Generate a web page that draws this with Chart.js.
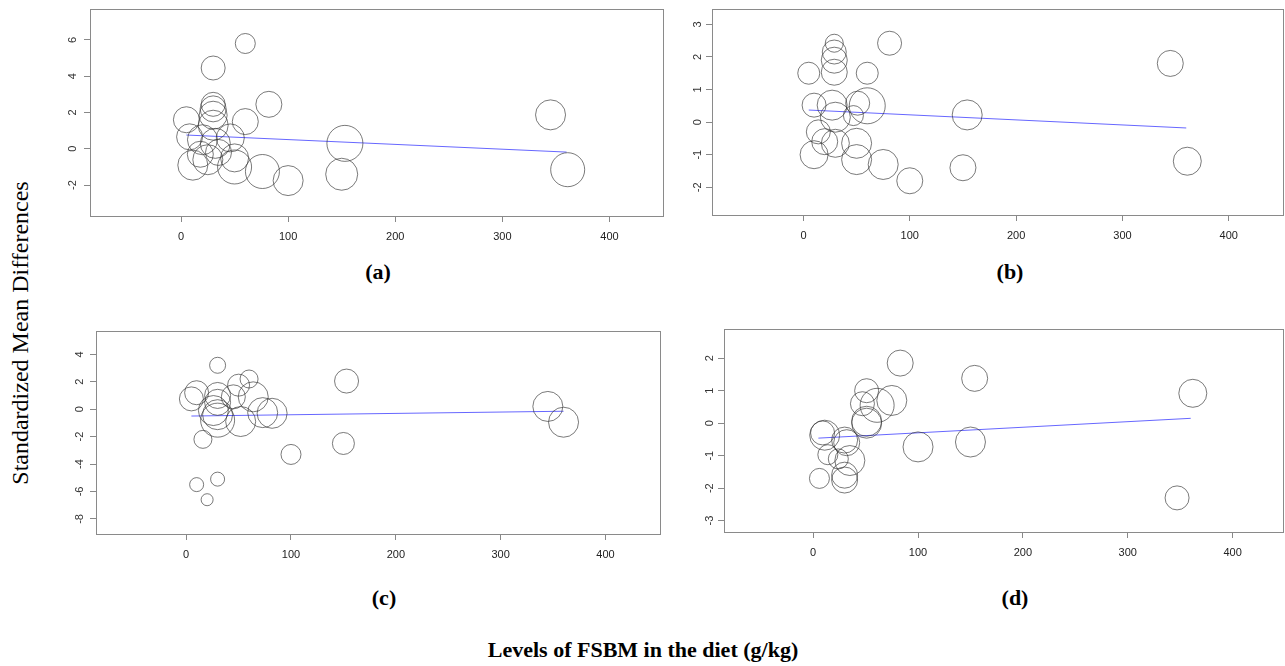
<!DOCTYPE html>
<html>
<head>
<meta charset="utf-8">
<script src="https://cdn.jsdelivr.net/npm/chart.js@4.4.1/dist/chart.umd.min.js"></script>
<style>
body { margin:0; background:#fff; width:1285px; height:666px; position:relative; overflow:hidden; font-family:"Liberation Serif","Times New Roman",serif; }
canvas { position:absolute; }
.lab { position:absolute; font-weight:bold; font-size:22px; transform:translate(-50%,-50%); white-space:nowrap; }
#ylab { position:absolute; left:20px; top:333px; font-size:24px; transform:translate(-50%,-50%) rotate(-90deg); white-space:nowrap; }
</style>
</head>
<body>
<canvas id="chartA" width="640" height="250" style="left:40px;top:0px"></canvas>
<canvas id="chartB" width="615" height="250" style="left:670px;top:0px"></canvas>
<canvas id="chartC" width="634" height="250" style="left:46px;top:320px"></canvas>
<canvas id="chartD" width="611" height="250" style="left:674px;top:320px"></canvas>

<div class="lab" style="left:378px;top:272px">(a)</div>
<div class="lab" style="left:1010px;top:272px">(b)</div>
<div class="lab" style="left:384px;top:598px">(c)</div>
<div class="lab" style="left:1015px;top:598px">(d)</div>
<div id="ylab">Standardized Mean Differences</div>
<div class="lab" style="left:643px;top:650px">Levels of FSBM in the diet (g/kg)</div>

<script>
// FSBM level (g/kg), SMD, study weight (relative)
const xTicks = [0, 100, 200, 300, 400]

// (a)
const xA = [60, 30, 82, 30, 30, 30, 30, 5, 60, 8, 46, 20, 32, 50, 11, 18, 25, 35, 50, 76, 100, 153, 150, 345, 361]
const yA = [5.8, 4.45, 2.45, 2.45, 2.2, 1.85, 1.3, 1.6, 1.5, 0.66, 0.6, 0.5, 0.3, -0.5, -0.9, -0.3, -0.6, -0.2, -1.0, -1.25, -1.75, 0.3, -1.4, 1.87, -1.15]
const wA = [1.0, 1.2, 1.3, 1.2, 1.3, 1.4, 1.5, 1.3, 1.3, 1.3, 1.4, 1.5, 1.5, 1.4, 1.5, 1.3, 1.5, 1.3, 1.7, 1.7, 1.5, 1.8, 1.6, 1.5, 1.7]
const fitXA = [5, 360]
const fitYA = [0.76, -0.18]
const yTicksA = [-2, 0, 2, 4, 6]

// (b)
const xB = [29, 29, 29, 29, 81, 5, 60, 10, 27, 51, 60, 47, 30, 14, 20, 30, 50, 10, 50, 75, 100, 154, 150, 345, 361]
const yB = [2.42, 2.15, 1.9, 1.53, 2.42, 1.5, 1.5, 0.52, 0.52, 0.58, 0.5, 0.2, 0.15, -0.3, -0.6, -0.65, -0.65, -1.0, -1.15, -1.3, -1.8, 0.22, -1.4, 1.8, -1.2]
const wB = [0.9, 1.2, 1.3, 1.3, 1.2, 1.1, 1.1, 1.2, 1.5, 1.2, 1.8, 1.0, 1.5, 1.2, 1.3, 1.4, 1.5, 1.4, 1.5, 1.5, 1.3, 1.5, 1.3, 1.3, 1.4]
const fitXB = [5, 360]
const fitYB = [0.37, -0.18]
const yTicksB = [-2, -1, 0, 1, 2, 3]

// (c)
const xC = [30, 60, 50, 10, 5, 30, 30, 64, 45, 26, 30, 30, 52, 82, 73, 16, 100, 10, 30, 20, 153, 150, 345, 360]
const yC = [3.2, 2.2, 1.75, 1.2, 0.75, 1.0, 0.5, 0.9, 0.9, -0.1, -0.4, -0.8, -0.9, -0.3, -0.25, -2.2, -3.3, -5.5, -5.1, -6.6, 2.05, -2.5, 0.2, -0.95]
const wC = [0.8, 0.9, 1.1, 1.2, 1.2, 1.3, 1.3, 1.5, 1.2, 1.5, 1.5, 1.7, 1.5, 1.5, 1.5, 0.9, 1.0, 0.7, 0.7, 0.6, 1.2, 1.1, 1.5, 1.5]
const fitXC = [5, 360]
const fitYC = [-0.5, -0.15]
const yTicksC = [-8, -6, -4, -2, 0, 2, 4]

// (d)
const xD = [83, 51, 47, 61, 75, 51, 51, 9, 11, 30, 32, 14, 24, 35, 30, 30, 6, 100, 154, 150, 347, 362]
const yD = [1.85, 1.0, 0.6, 0.55, 0.7, 0.0, 0.06, -0.3, -0.37, -0.52, -0.6, -0.97, -1.1, -1.15, -1.6, -1.75, -1.7, -0.73, 1.38, -0.58, -2.3, 0.92]
const wD = [1.3, 1.2, 1.2, 1.7, 1.5, 1.5, 1.5, 1.2, 1.5, 1.3, 1.3, 1.0, 1.0, 1.5, 1.3, 1.3, 1.0, 1.5, 1.3, 1.5, 1.2, 1.4]
const fitXD = [5, 360]
const fitYD = [-0.46, 0.15]
const yTicksD = [-3, -2, -1, 0, 1, 2]

const axisFont = { family: '"Liberation Sans", Arial, sans-serif', size: 11 }

// box round the plot + y labels turned like R draws them
const boxPlugin = {
  id: 'rbox',
  afterDraw(chart) {
    const { ctx, chartArea: a, scales } = chart
    ctx.save()
    ctx.strokeStyle = '#8a8a8a'
    ctx.lineWidth = 1
    ctx.strokeRect(Math.round(a.left) + 0.5, Math.round(a.top) + 0.5, Math.round(a.right - a.left), Math.round(a.bottom - a.top))
    ctx.fillStyle = '#333'
    ctx.font = '11px "Liberation Sans", Arial, sans-serif'
    ctx.textAlign = 'center'
    ctx.textBaseline = 'middle'
    const gap = chart.options.plugins.rbox.gap
    scales.y.ticks.forEach(t => {
      ctx.save()
      ctx.translate(a.left - gap, scales.y.getPixelForValue(t.value))
      ctx.rotate(-Math.PI / 2)
      ctx.fillText(String(t.value), 0, 0)
      ctx.restore()
    })
    ctx.restore()
  }
}

function panel(id, xs, ys, ws, fx, fy, yTicks, o) {
  new Chart(document.getElementById(id), {
    type: 'bubble',
    data: {
      datasets: [{
        data: xs.map((x, i) => ({ x: x, y: ys[i], r: ws[i] * 10 })),
        backgroundColor: 'rgba(0,0,0,0)',
        borderColor: 'rgba(50,50,50,0.65)',
        borderWidth: 1
      }, {
        type: 'line',
        data: fx.map((x, i) => ({ x: x, y: fy[i] })),
        borderColor: 'rgba(0,0,255,0.6)',
        borderWidth: 1,
        pointRadius: 0,
        fill: false
      }]
    },
    options: {
      responsive: false,
      animation: false,
      layout: { autoPadding: false, padding: { top: o.top, right: o.right, left: 0, bottom: 0 } },
      plugins: {
        legend: { display: false },
        tooltip: { enabled: false },
        rbox: { gap: o.gap }
      },
      scales: {
        x: {
          type: 'linear',
          min: o.xmin,
          max: o.xmax,
          afterBuildTicks: s => { s.ticks = xTicks.map(v => ({ value: v })) },
          afterFit: s => { s.height = o.xh },
          grid: { drawOnChartArea: false, drawTicks: true, tickLength: 6, color: '#888' },
          border: { display: false },
          ticks: { color: '#222', font: axisFont, padding: 8, maxRotation: 0 }
        },
        y: {
          type: 'linear',
          min: o.ymin,
          max: o.ymax,
          afterBuildTicks: s => { s.ticks = yTicks.map(v => ({ value: v })) },
          afterFit: s => { s.width = o.yw },
          grid: { drawOnChartArea: false, drawTicks: true, tickLength: 6, color: '#888' },
          border: { display: false },
          ticks: { display: false }
        }
      }
    },
    plugins: [boxPlugin]
  })
}

panel('chartA', xA, yA, wA, fitXA, fitYA, yTicksA, { xmin: -85, xmax: 450, ymin: -3.7, ymax: 7.7, top: 9, right: 17, xh: 34, yw: 50, gap: 17 })
panel('chartB', xB, yB, wB, fitXB, fitYB, yTicksB, { xmin: -86, xmax: 451, ymin: -2.85, ymax: 3.47, top: 9, right: 2, xh: 35, yw: 42, gap: 14 })
panel('chartC', xC, yC, wC, fitXC, fitYC, yTicksC, { xmin: -86, xmax: 452, ymin: -9.1, ymax: 5.7, top: 11, right: 20, xh: 36, yw: 50, gap: 16 })
panel('chartD', xD, yD, wD, fitXD, fitYD, yTicksD, { xmin: -85, xmax: 448, ymin: -3.35, ymax: 2.9, top: 9, right: 2, xh: 38, yw: 50, gap: 14 })
</script>
</body>
</html>
